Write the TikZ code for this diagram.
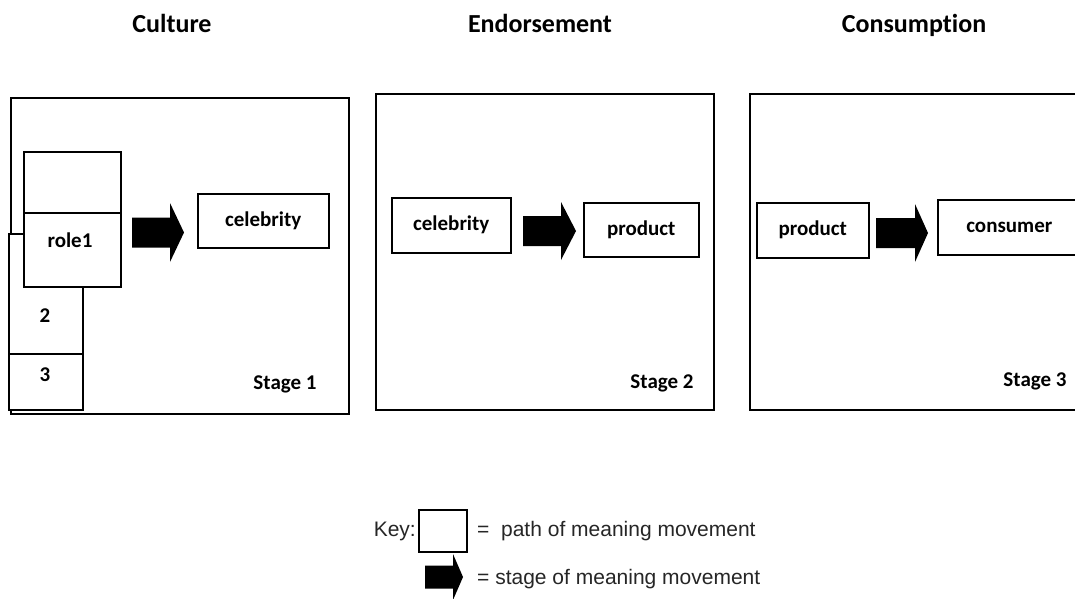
\documentclass[tikz,border=0pt]{standalone}
\usepackage{fontspec}
\setmainfont{Carlito}[Ligatures=NoCommon]
\newfontfamily\keyfont{Liberation Sans}
\begin{document}
\begin{tikzpicture}[x=1pt,y=-1pt,
  stageframe/.style={draw, line width=1.5pt, inner sep=0pt, anchor=north west},
  itembox/.style={draw, line width=1.5pt, fill=white, inner sep=0pt,
    font=\bfseries\fontsize{21}{25}\selectfont},
  lbl/.style={inner sep=0pt, anchor=base, font=\bfseries\fontsize{21}{25}\selectfont},
  heading/.style={inner sep=0pt, anchor=base, font=\bfseries\fontsize{26}{30}\selectfont},
  keytext/.style={inner sep=0pt, font=\keyfont\fontsize{21}{25}\selectfont, text=black!85},
  pics/blockarrow/.style n args={4}{code={
    % body length, head length, body half width, head half width
    \fill (0,-#3) -- (#1,-#3) -- (#1,-#4) -- (#1+#2,0) -- (#1,#4) -- (#1,#3) -- (0,#3) -- cycle;
  }}
]
\clip (0,0) rectangle (1075,598);
\fill[white] (0,0) rectangle (1075,598);

% headings
\node[heading] (hculture) at (172,32.5) {Culture};
\node[heading] (hendorse) at (540,32.5) {Endorsement};
\node[heading] (hconsume) at (914,32.5) {Consumption};

% stage frames
\node[stageframe, minimum width=338, minimum height=316] (s1) at (10,97) {};
\node[stageframe, minimum width=338, minimum height=316] (s2) at (375,93) {};
\node[stageframe, minimum width=338, minimum height=316] (s3) at (749,93) {};

% stage 1: stacked role boxes
\node[itembox, minimum width=74, minimum height=120, anchor=north west] (r2) at (8,233) {};
\node[itembox, minimum width=74, minimum height=56, anchor=north west] (r3) at (8,353) {};
\node[itembox, minimum width=97, minimum height=61, anchor=north west] (r0) at (23,151) {};
\node[itembox, minimum width=97, minimum height=74, anchor=north west] (r1) at (23,212) {};
\node[lbl] (t1) at (70,247) {role1};
\node[lbl] (t2) at (45,322) {2};
\node[lbl] (t3) at (45,381) {3};

\pic at (132,232.5) {blockarrow={38}{14}{15}{29.5}};
\node[itembox, minimum width=131, minimum height=54, anchor=north west] (cel1) at (197,193) {celebrity};
\node[lbl] (st1) at (285,389.5) {Stage 1};

% stage 2
\node[itembox, minimum width=119, minimum height=55, anchor=north west] (cel2) at (391,197) {celebrity};
\pic at (523,231) {blockarrow={38}{15}{15}{29}};
\node[itembox, minimum width=115, minimum height=54, anchor=north west] (prod2) at (583,202) {product};
\node[lbl] (st2) at (662,388) {Stage 2};

% stage 3
\node[itembox, minimum width=112, minimum height=55, anchor=north west] (prod3) at (756,202) {product};
\pic at (876,233) {blockarrow={39}{13}{15}{29}};
\node[itembox, minimum width=143, minimum height=55, anchor=north west] (cons3) at (937,199) {consumer};
\node[lbl] (st3) at (1035,386.5) {Stage 3};

% key
\node[keytext, anchor=east] (keylbl) at (416,531) {Key:};
\node[draw, line width=1.3pt, minimum width=48, minimum height=42, inner sep=0pt] (keybox) at (443,531) {};
\node[keytext, anchor=west] (keypath) at (477,531) {=\ \ path of meaning movement};
\pic at (425,577) {blockarrow={28}{10}{11.5}{23}};
\node[keytext, anchor=west] (keystage) at (477,579) {= stage of meaning movement};
\end{tikzpicture}
\end{document}
